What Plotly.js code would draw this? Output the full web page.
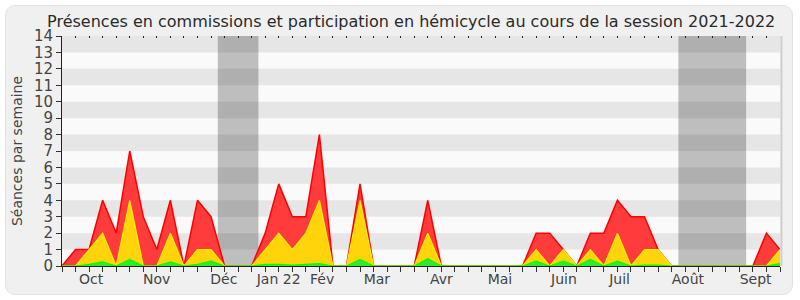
<!DOCTYPE html>
<html>
<head>
<meta charset="utf-8">
<script src="https://cdn.plot.ly/plotly-3.0.1.min.js"></script>
<style>
  html, body { margin: 0; padding: 0; background: #ffffff; }
  #wrap { position: relative; width: 800px; height: 300px; }
  #frame { position: absolute; left: 5px; top: 5px; width: 786px; height: 288px;
           background: #f0f0f0; border: 1px solid #e2e2e2; border-radius: 10px; }
  #chart { position: absolute; left: 0; top: 0; width: 800px; height: 300px; }
</style>
</head>
<body>
<div id="wrap"><div id="frame"></div><div id="chart"></div></div>
<script>
// Weekly values, week index 0..53 of the session
const weeks = Array.from({length: 54}, (_, i) => i);
const presenceRed = [0,1,1,4,2,7,3,1,4,0,4,3,0,0,0,2,5,3,3,8,0,0,5,0,0,0,0,4,0,0,0,0,0,0,0,2,2,1,0,2,2,4,3,3,1,0,0,0,0,0,0,0,2,1];
const presenceYellow = [0,0,1,2,0,4,0,0,2,0,1,1,0,0,0,1,2,1,2,4,0,0,4,0,0,0,0,2,0,0,0,0,0,0,0,1,0,1,0,1,0,2,0,1,1,0,0,0,0,0,0,0,0,1];
const presenceGreen = [0,0,0.1,0.25,0,0.4,0,0,0.25,0,0.1,0.3,0,0,0,0.1,0.1,0.05,0.1,0.15,0,0,0.4,0,0,0,0,0.45,0,0,0,0,0,0,0,0.3,0,0.3,0,0.4,0,0.3,0,0.05,0.05,0,0,0,0,0,0,0,0,0.15];
const monthLabels = ["Oct","Nov","Déc","Jan 22","Fév","Mar","Avr","Mai","Juin","Juil","Août","Sept"];
const monthPos = [2.15,6.99,11.95,15.99,19.2,23.24,28.01,32.33,37.05,41.16,46.2,51.2];
const vacations = [[11.5,14.5],[45.5,50.5]];
const yTicks = Array.from({length: 15}, (_, i) => i);

const font = "DejaVu Sans, Verdana, sans-serif";
const traces = [
  {x: weeks, y: presenceRed, type: 'scatter', mode: 'lines', fill: 'tozeroy',
   fillcolor: '#ff3b3b', line: {color: '#ff0000', width: 1.5}, hoverinfo: 'skip'},
  {x: weeks, y: presenceYellow, type: 'scatter', mode: 'lines', fill: 'tozeroy',
   fillcolor: '#ffd40a', line: {color: '#ffee00', width: 1.2}, hoverinfo: 'skip'},
  {x: weeks, y: presenceGreen, type: 'scatter', mode: 'lines', fill: 'tozeroy',
   fillcolor: '#33e833', line: {color: '#00ff00', width: 1.2}, hoverinfo: 'skip'},
  {x: weeks, y: weeks.map(() => null), xaxis: 'x2', type: 'scatter', mode: 'lines', hoverinfo: 'skip'}
];

const shapes = [];
vacations.forEach(v => shapes.push({type: 'rect', layer: 'below', xref: 'x', yref: 'paper',
  x0: v[0], x1: v[1], y0: 0, y1: 1, fillcolor: '#bebebe', line: {width: 0}}));
for (let k = 1; k < 14; k += 2) {
  shapes.push({type: 'rect', layer: 'below', xref: 'paper', yref: 'y',
    x0: 0, x1: 1, y0: k, y1: k + 1, fillcolor: 'rgba(0,0,0,0.08)', line: {width: 0}});
}
shapes.push({type: 'line', layer: 'above', xref: 'paper', yref: 'paper', x0: 1.002, x1: 1.002, y0: 0, y1: 1,
  line: {color: '#cfcfcf', width: 2}});

const layout = {
  width: 800, height: 300,
  margin: {l: 62, r: 20, t: 36, b: 34},
  paper_bgcolor: 'rgba(0,0,0,0)',
  plot_bgcolor: '#fafafa',
  showlegend: false,
  font: {family: font, color: '#333'},
  title: {text: 'Présences en commissions et participation en hémicycle au cours de la session 2021-2022',
    font: {family: font, size: 16, color: '#2a2a2a'}, x: 0.514, xanchor: 'center', xref: 'container',
    y: 0.93, yanchor: 'middle', yref: 'container'},
  xaxis: {range: [0, 53], tickmode: 'array', tickvals: monthPos, ticktext: monthLabels,
    ticks: '', showgrid: false, zeroline: false, showline: true, linecolor: '#222', linewidth: 1,
    tickfont: {family: font, size: 14, color: '#444'},
    minor: {tickmode: 'array', tickvals: weeks, ticks: 'outside', ticklen: 5, tickcolor: '#333', tickwidth: 1, showgrid: false}},
  xaxis2: {range: [0, 53], overlaying: 'x', side: 'top', tickmode: 'array', tickvals: weeks,
    ticks: 'inside', ticklen: 2, tickcolor: '#222', tickwidth: 1, showticklabels: false,
    showgrid: false, zeroline: false, showline: false},
  yaxis: {range: [0, 14], tickmode: 'array', tickvals: yTicks, ticks: 'outside', ticklen: 5,
    tickcolor: '#333', showgrid: false, zeroline: false, showline: true, linecolor: '#222', linewidth: 1,
    tickfont: {family: font, size: 15, color: '#444'},
    title: {text: 'Séances par semaine', font: {family: font, size: 14, color: '#444'}, standoff: 8}},
  shapes: shapes
};

Plotly.newPlot('chart', traces, layout, {staticPlot: true, displayModeBar: false});
</script>
</body>
</html>
